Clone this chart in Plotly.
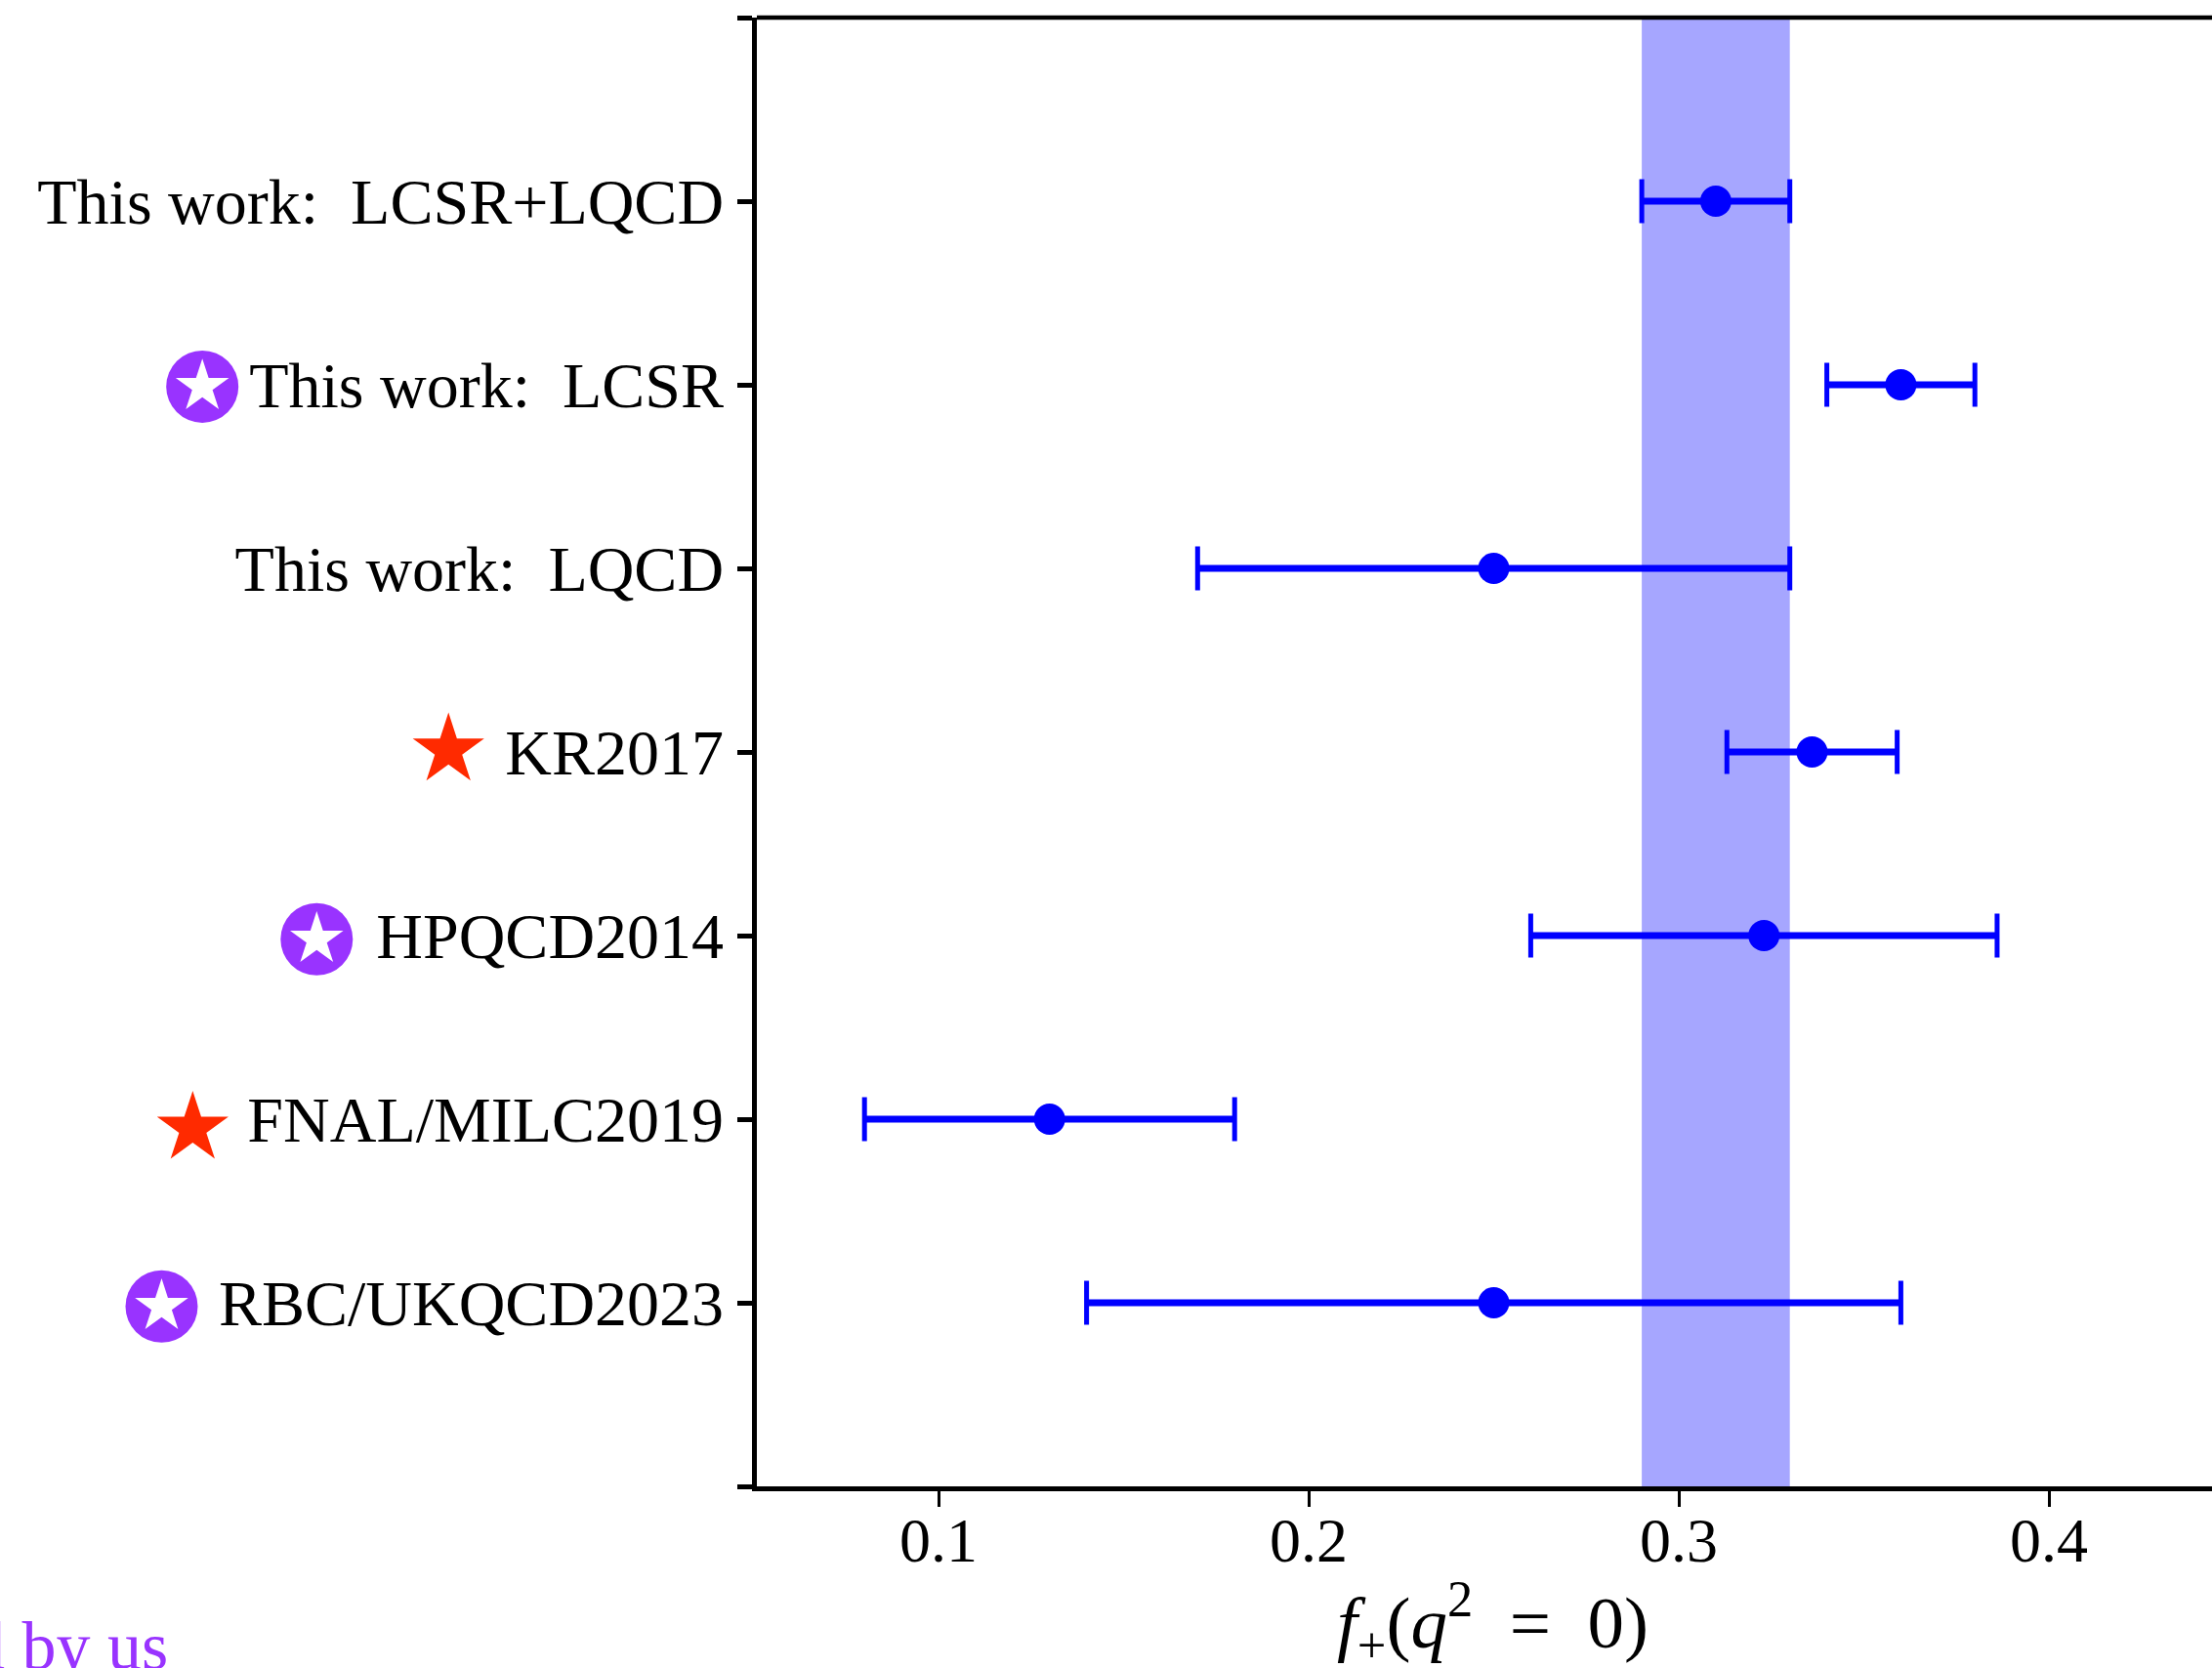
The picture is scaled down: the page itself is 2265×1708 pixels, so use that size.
import plotly.graph_objects as go

NB = "\u00a0"
labels = ["RBC/UKQCD2023", "FNAL/MILC2019", "HPQCD2014", "KR2017",
          "This work:" + NB + NB + "LQCD", "This work:" + NB + NB + "LCSR", "This work:" + NB + NB + "LCSR+LQCD"]
rows = [0, 1, 2, 3, 4, 5, 6]
values = [0.25, 0.13, 0.323, 0.336, 0.25, 0.36, 0.31]
errors = [0.11, 0.05, 0.063, 0.023, 0.08, 0.02, 0.02]
band_low, band_high = 0.29, 0.33
x_ticks = [0.1, 0.2, 0.3, 0.4]
x_tick_labels = ["0.1", "0.2", "0.3", "0.4"]
x_title = "<i>f</i><sub>+</sub>(<i>q</i><sup>2</sup>" + NB + NB + "=" + NB + NB + "0)"

# Badges beside the labels, on a hidden axis that continues the x scale to the left
badge_y = [4.99, 1.98, -0.02]
badge_x = [-0.0989, -0.068, -0.1099]
red_star_y = [3.01, 0.95]
red_star_x = [-0.0324, -0.1015]

BLUE = "#0000ff"
PURPLE = "#9933ff"
RED = "#ff2a00"
FONT = "Liberation Serif"

W, H = 2265, 1708
LEFT = 775
BOTTOM = 186
XMIN = 0.05092
XMAX = 0.44406
PER_UNIT = (W - LEFT) / (XMAX - XMIN)

fig = go.Figure()

# thick main bars
line_x, line_y = [], []
for v, e, r in zip(values, errors, rows):
    line_x += [v - e, v + e, None]
    line_y += [r, r, None]
fig.add_trace(go.Scatter(x=line_x, y=line_y, mode="lines",
                         line=dict(color=BLUE, width=7), hoverinfo="skip", showlegend=False))
fig.add_trace(go.Scatter(
    x=values, y=rows, mode="markers",
    marker=dict(color=BLUE, size=32, line=dict(width=0)),
    error_x=dict(type="data", array=errors, color=BLUE, thickness=5, width=22.5),
    showlegend=False))

for xs, ys, color, size, sym in [
    (badge_x, badge_y, PURPLE, 74, "circle"),
    (badge_x, badge_y, "#ffffff", 41, "star"),
    (red_star_x, red_star_y, RED, 55, "star"),
]:
    fig.add_trace(go.Scatter(x=xs, y=ys, xaxis="x2", yaxis="y", mode="markers",
                             marker=dict(color=color, size=size, symbol=sym, line=dict(width=0)),
                             hoverinfo="skip", showlegend=False))

fig.add_vrect(x0=band_low, x1=band_high, fillcolor="rgba(0,0,255,0.35)", line_width=0, layer="below")
fig.add_shape(type="line", xref="x domain", yref="paper", x0=0, x1=1, y0=1, y1=1,
              line=dict(color="black", width=4.5))

PLOT_H = H - BOTTOM - 18
fig.add_annotation(xref="paper", yref="paper", x=174 / W, y=-(BOTTOM + 18) / PLOT_H,
                   xanchor="right", yanchor="bottom", showarrow=False, text="d by us",
                   font=dict(family=FONT, size=70, color=PURPLE))
fig.add_annotation(xref="paper", yref="paper", x=1528 / W, y=-(1660 - (H - BOTTOM)) / PLOT_H,
                   xanchor="center", yanchor="middle", showarrow=False, text=x_title,
                   font=dict(family=FONT, size=75, color="black"))

fig.update_layout(
    width=W, height=H, autosize=False,
    margin=dict(l=0, r=0, t=18, b=BOTTOM),
    paper_bgcolor="white", plot_bgcolor="white",
    font=dict(family=FONT, size=64, color="black"),
    xaxis=dict(domain=[LEFT / W, 1], range=[XMIN, XMAX], tickvals=x_ticks, ticktext=x_tick_labels,
               showgrid=False, zeroline=False, showline=True, linecolor="black", linewidth=4.5,
               ticks="outside", ticklen=16, tickwidth=3, tickcolor="black",
               ticklabelstandoff=-21, tickfont=dict(family=FONT, size=64)),
    xaxis2=dict(domain=[0, LEFT / W], range=[XMIN - LEFT / PER_UNIT, XMIN], anchor="y",
                visible=False),
    yaxis=dict(range=[-1, 7], tickvals=rows, ticktext=labels, anchor="x",
               showgrid=False, zeroline=False, showline=True, linecolor="black", linewidth=4.5,
               ticks="outside", ticklen=15, tickwidth=5, tickcolor="black",
               minor=dict(tickvals=[-1, 7], ticks="outside", ticklen=15, tickwidth=5, tickcolor="black"),
               ticklabelstandoff=1, tickfont=dict(family=FONT, size=66)),
)

fig.write_html("out.html", config=dict(displayModeBar=False),
               post_script="document.body.style.margin='0';document.body.style.overflow='hidden';")
